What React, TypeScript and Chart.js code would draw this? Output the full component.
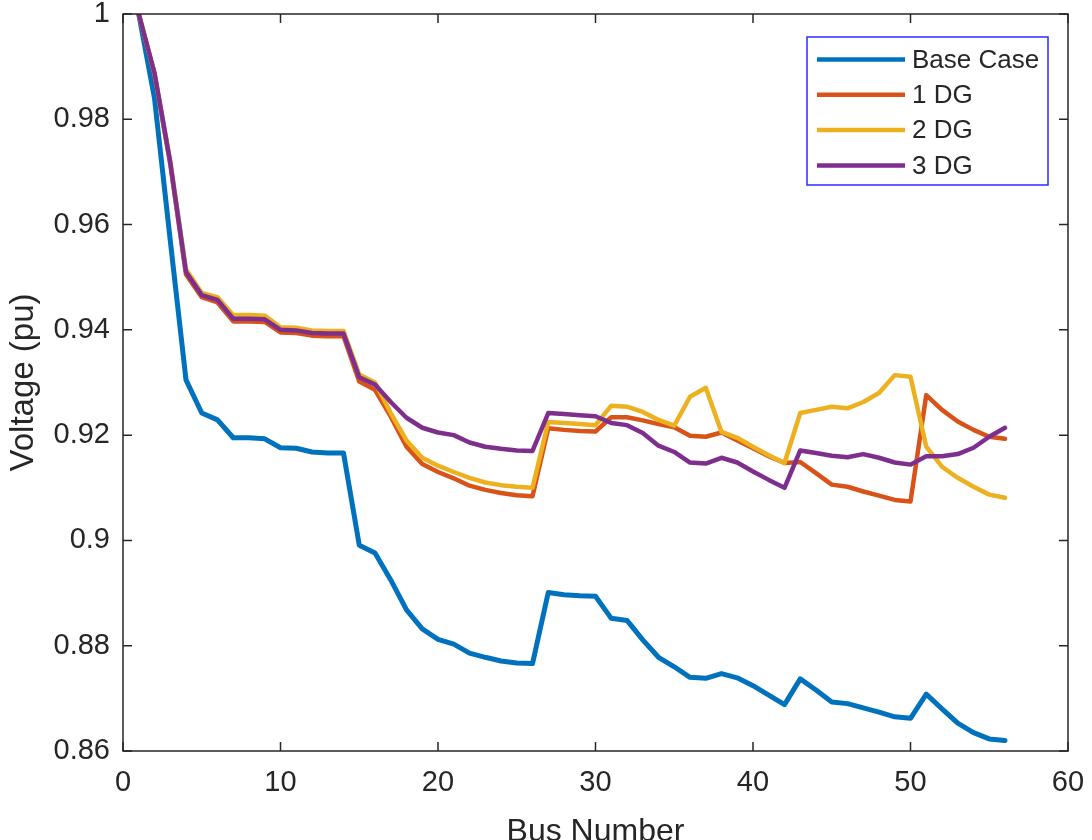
import React, { useEffect, useRef } from 'react';
import { Chart, registerables } from 'chart.js';

Chart.register(...registerables);

const busNumbers = [
  1, 2, 3, 4, 5, 6, 7, 8, 9, 10, 11, 12, 13, 14, 15, 16, 17, 18, 19, 20,
  21, 22, 23, 24, 25, 26, 27, 28, 29, 30, 31, 32, 33, 34, 35, 36, 37, 38, 39, 40,
  41, 42, 43, 44, 45, 46, 47, 48, 49, 50, 51, 52, 53, 54, 55, 56,
];

const baseCase = [
  1.0, 0.984, 0.957, 0.9305, 0.9242, 0.9229, 0.9195, 0.9195, 0.9193, 0.9176,
  0.9175, 0.9168, 0.9166, 0.9166, 0.8991, 0.8976, 0.8925, 0.8868, 0.8832, 0.8812,
  0.8803, 0.8786, 0.8778, 0.8771, 0.8767, 0.8766, 0.8901, 0.8897, 0.8895, 0.8894,
  0.8852, 0.8848, 0.8811, 0.8778, 0.876, 0.874, 0.8738, 0.8747, 0.8739, 0.8724,
  0.8706, 0.8688, 0.8737, 0.8716, 0.8693, 0.869, 0.8682, 0.8674, 0.8665, 0.8662,
  0.8708, 0.868, 0.8653, 0.8635, 0.8623, 0.862,
];

const oneDG = [
  1.0, 0.9885, 0.9715, 0.9505, 0.9462, 0.9452, 0.9416, 0.9416, 0.9415, 0.9395,
  0.9394, 0.9389, 0.9388, 0.9388, 0.9302, 0.9286, 0.9235, 0.9178, 0.9145, 0.913,
  0.9118, 0.9104, 0.9096, 0.909, 0.9086, 0.9084, 0.9213, 0.921, 0.9208, 0.9207,
  0.9234, 0.9234, 0.9228, 0.9221, 0.9215, 0.9199, 0.9197, 0.9205, 0.919, 0.9175,
  0.916, 0.9147, 0.9149, 0.9128, 0.9106, 0.9102, 0.9093, 0.9085, 0.9077, 0.9074,
  0.9276, 0.9248, 0.9226, 0.921, 0.9197, 0.9193,
];

const twoDG = [
  1.0, 0.9888, 0.972, 0.9515, 0.947, 0.9462, 0.9428, 0.9428, 0.9427, 0.9405,
  0.9404, 0.9399, 0.9398, 0.9398, 0.9315, 0.93, 0.9242, 0.919, 0.9157, 0.9142,
  0.913, 0.9119, 0.911, 0.9105, 0.9102, 0.91, 0.9225, 0.9223, 0.9221, 0.9219,
  0.9256, 0.9254, 0.9244, 0.9229, 0.9218, 0.9273, 0.929, 0.9206, 0.9195, 0.9178,
  0.9162, 0.9147, 0.9242, 0.9248, 0.9254, 0.9251, 0.9263, 0.928, 0.9314, 0.9311,
  0.9178, 0.914, 0.9119, 0.9102, 0.9087, 0.9081,
];

const threeDG = [
  1.0, 0.9888, 0.9718, 0.951, 0.9466, 0.9457, 0.9421, 0.9421, 0.942, 0.94,
  0.9399, 0.9394, 0.9393, 0.9393, 0.931, 0.9296, 0.9263, 0.9233, 0.9214, 0.9205,
  0.92, 0.9186, 0.9178, 0.9174, 0.9171, 0.917, 0.9242, 0.924, 0.9238, 0.9236,
  0.9223, 0.9219, 0.9204, 0.918, 0.9168, 0.9148, 0.9146, 0.9157, 0.9148, 0.9131,
  0.9115, 0.91, 0.9171, 0.9166, 0.9161, 0.9158, 0.9164, 0.9157, 0.9148, 0.9144,
  0.916, 0.916, 0.9164, 0.9176, 0.9197, 0.9214,
];

const seriesLabels = ['Base Case', '1 DG', '2 DG', '3 DG'];
const seriesColors = ['#0072BD', '#D95319', '#EDB120', '#7E2F8E'];
const xTickValues = [0, 10, 20, 30, 40, 50, 60];
const yTickValues = [0.86, 0.88, 0.9, 0.92, 0.94, 0.96, 0.98, 1];
const yTickLabels = ['0.86', '0.88', '0.9', '0.92', '0.94', '0.96', '0.98', '1'];
const xTitle = 'Bus Number';
const yTitle = 'Voltage (pu)';

const FONT = "'Liberation Sans', Arial, Helvetica, sans-serif";
const AXIS_COLOR = '#262626';

const framePlugin = {
  id: 'matlabFrame',
  afterDatasetsDraw(chart: any) {
    const { ctx, chartArea, scales } = chart;
    const { left, right, top, bottom } = chartArea;
    const tl = 9;
    ctx.save();
    ctx.strokeStyle = AXIS_COLOR;
    ctx.lineWidth = 1.5;
    ctx.strokeRect(left, top, right - left, bottom - top);
    ctx.beginPath();
    scales.x.ticks.forEach((t: any) => {
      const px = scales.x.getPixelForValue(t.value);
      ctx.moveTo(px, bottom);
      ctx.lineTo(px, bottom - tl);
      ctx.moveTo(px, top);
      ctx.lineTo(px, top + tl);
    });
    scales.y.ticks.forEach((t: any) => {
      const py = scales.y.getPixelForValue(t.value);
      ctx.moveTo(left, py);
      ctx.lineTo(left + tl, py);
      ctx.moveTo(right, py);
      ctx.lineTo(right - tl, py);
    });
    ctx.stroke();
    ctx.restore();
  },
};

const boxLegendPlugin = {
  id: 'boxLegend',
  afterDraw(chart: any) {
    const { ctx, chartArea } = chart;
    const bx = chartArea.right - 261;
    const by = chartArea.top + 23;
    const bw = 241;
    const bh = 148;
    ctx.save();
    ctx.fillStyle = '#ffffff';
    ctx.fillRect(bx, by, bw, bh);
    ctx.strokeStyle = '#2b2bff';
    ctx.lineWidth = 1.5;
    ctx.strokeRect(bx, by, bw, bh);
    ctx.font = `26px ${FONT}`;
    ctx.textBaseline = 'middle';
    ctx.textAlign = 'left';
    const order = [0, 1, 2, 3];
    order.forEach((i) => {
      const ds = chart.data.datasets[i];
      const y = by + 22.5 + i * 35.3;
      ctx.strokeStyle = ds.borderColor;
      ctx.lineWidth = 4.5;
      ctx.beginPath();
      ctx.moveTo(bx + 10, y);
      ctx.lineTo(bx + 98, y);
      ctx.stroke();
      ctx.fillStyle = AXIS_COLOR;
      ctx.fillText(ds.label, bx + 105, y + 1);
    });
    ctx.restore();
  },
};

function toPoints(values: number[]) {
  return busNumbers.map((b, i) => ({ x: b, y: values[i] }));
}

export default function App() {
  const canvasRef = useRef<HTMLCanvasElement | null>(null);

  useEffect(() => {
    if (!canvasRef.current) return;
    const seriesValues = [baseCase, oneDG, twoDG, threeDG];
    const chart = new Chart(canvasRef.current, {
      type: 'line',
      data: {
        datasets: seriesValues.map((vals, i) => ({
          label: seriesLabels[i],
          data: toPoints(vals),
          borderColor: seriesColors[i],
          backgroundColor: seriesColors[i],
          borderWidth: i === 0 ? 5 : 4.5,
          pointRadius: 0,
          tension: 0,
          fill: false,
          borderJoinStyle: 'round' as const,
          borderCapStyle: 'round' as const,
          order: 4 - i,
        })),
      },
      options: {
        responsive: false,
        animation: false,
        layout: { padding: { top: 14, right: 24, left: 0, bottom: 0 } },
        plugins: {
          legend: { display: false },
          tooltip: { enabled: false },
        },
        scales: {
          x: {
            type: 'linear',
            position: 'bottom',
            min: 0,
            max: 60,
            afterBuildTicks: (scale: any) => {
              scale.ticks = xTickValues.map((v) => ({ value: v }));
            },
            afterFit: (scale: any) => {
              scale.height = 89;
              scale.paddingLeft = 0;
              scale.paddingRight = 0;
            },
            grid: { display: false, drawTicks: false },
            border: { display: false },
            ticks: {
              autoSkip: false,
              maxRotation: 0,
              padding: 15,
              color: AXIS_COLOR,
              font: { family: FONT, size: 29 },
              callback: (v: any) => String(v),
            },
            title: {
              display: true,
              text: xTitle,
              color: AXIS_COLOR,
              font: { family: FONT, size: 32 },
              padding: { top: 0, bottom: -11 },
            },
          },
          y: {
            type: 'linear',
            position: 'left',
            min: 0.86,
            max: 1,
            afterBuildTicks: (scale: any) => {
              scale.ticks = yTickValues.map((v) => ({ value: v }));
            },
            afterFit: (scale: any) => {
              scale.width = 123;
              scale.paddingTop = 0;
              scale.paddingBottom = 0;
            },
            grid: { display: false, drawTicks: false },
            border: { display: false },
            ticks: {
              autoSkip: false,
              padding: 13,
              color: AXIS_COLOR,
              font: { family: FONT, size: 29 },
              callback: (v: any) => {
                const idx = yTickValues.findIndex((t) => Math.abs(t - v) < 1e-9);
                return idx >= 0 ? yTickLabels[idx] : '';
              },
            },
            title: {
              display: true,
              text: yTitle,
              color: AXIS_COLOR,
              font: { family: FONT, size: 33 },
              padding: { top: 4, bottom: 0 },
            },
          },
        },
      },
      plugins: [framePlugin, boxLegendPlugin],
    });
    return () => chart.destroy();
  }, []);

  return (
    <div style={{ position: 'fixed', left: 0, top: 0, width: 1092, height: 840, background: '#ffffff' }}>
      <canvas ref={canvasRef} width={1092} height={840} style={{ display: 'block' }} />
    </div>
  );
}
